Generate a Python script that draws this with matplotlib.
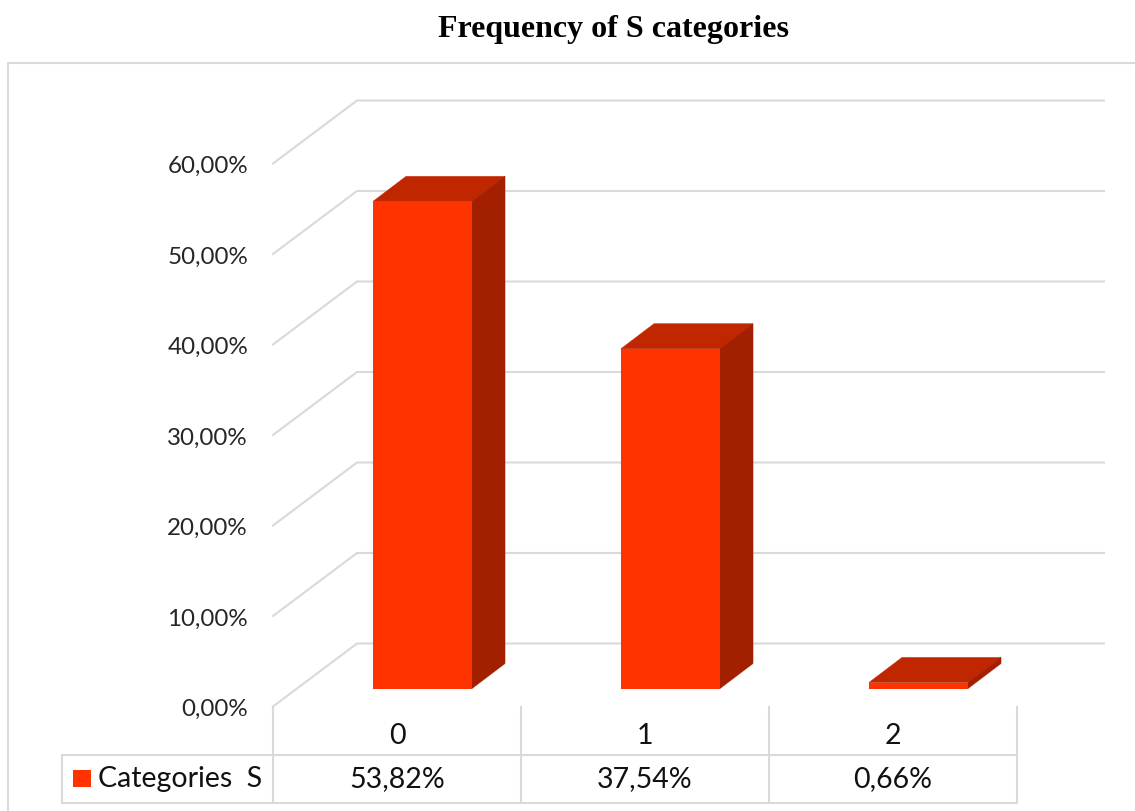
import matplotlib
matplotlib.use("Agg")
import matplotlib.pyplot as plt
from matplotlib.lines import Line2D
from matplotlib.patches import Rectangle
from matplotlib.transforms import ScaledTranslation

categories = ["0", "1", "2"]
values = [53.82, 37.54, 0.66]
value_labels = ["53,82%", "37,54%", "0,66%"]
y_ticks = [0, 10, 20, 30, 40, 50, 60]
y_tick_labels = ["0,00%", "10,00%", "20,00%", "30,00%", "40,00%", "50,00%", "60,00%"]
series_name = "Categories  S"

W, H = 1135, 812
FRONT = "#FF3300"
TOP = "#C02600"
SIDE = "#A22000"
GRID = "#D9D9D9"
TEXT = "#262626"

# size of one unit on each axis, in pixels
PX_X = 248.0
PX_Y = 9.05

# depth of the chart floor and of a single bar, in data units
WALL_DX = 84 / PX_X
WALL_DY = 63 / PX_Y
BAR_DX = 33 / PX_X
BAR_DY = 25 / PX_Y
BAR_LIFT = 18 / PX_Y
BAR_SHIFT = 25.5 / PX_X
BAR_W = 99 / PX_X

plt.rcParams['font.family'] = ['Lato', 'DejaVu Sans']

fig = plt.figure(figsize=(W / 100, H / 100), dpi=100, facecolor="white")
ax = fig.add_axes([273 / W, (H - 707.5) / H, 744 / W, 543 / H])
ax.set_xlim(0, 3)
ax.set_ylim(0, 60)
for s in ax.spines.values():
    s.set_visible(False)
ax.patch.set_visible(False)

x_pos = [i + 0.5 for i in range(len(categories))]
ax.set_xticks(x_pos, categories)
ax.set_yticks(y_ticks, y_tick_labels)
ax.tick_params(axis='x', length=0, pad=11, labelsize=20.5, labelcolor="#111111")
ax.tick_params(axis='y', length=0, pad=18, labelsize=17.4, labelcolor=TEXT)

# side wall diagonals plus the back wall gridlines
wall_end = (1104 - 273) / PX_X
for t in y_ticks:
    ax.plot([0, WALL_DX, wall_end], [t, t + WALL_DY, t + WALL_DY], color=GRID, lw=1.5,
            clip_on=False, zorder=1, solid_joinstyle='miter')

# bars: top and side faces first, the front face goes over them
for x, v in zip(x_pos, values):
    left = x + BAR_SHIFT - BAR_W / 2
    right = left + BAR_W
    bottom = BAR_LIFT
    top = bottom + v
    ax.fill([left, right, right + BAR_DX, left + BAR_DX],
            [top, top, top + BAR_DY, top + BAR_DY],
            facecolor=TOP, edgecolor=TOP, lw=0.4, zorder=3, clip_on=False)
    ax.fill([right, right + BAR_DX, right + BAR_DX, right],
            [bottom, bottom + BAR_DY, top + BAR_DY, top],
            facecolor=SIDE, edgecolor=SIDE, lw=0.4, zorder=3, clip_on=False)
    ax.bar(left, v, width=BAR_W, bottom=bottom, align='edge', color=FRONT, zorder=4, clip_on=False)

# data table under the plot
tbl_top = -(754 - 706) / PX_Y
tbl_bottom = -(802 - 706) / PX_Y
tbl_left = -(273 - 62) / PX_X
row_y = -(778 - 706) / PX_Y
for yy in [tbl_top, tbl_bottom]:
    ax.plot([tbl_left, 3], [yy, yy], color=GRID, lw=1.5, clip_on=False, zorder=1)
ax.plot([tbl_left, tbl_left], [tbl_top, tbl_bottom], color=GRID, lw=1.5, clip_on=False, zorder=1)
for i in range(len(categories) + 1):
    ax.plot([i, i], [0, tbl_bottom], color=GRID, lw=1.5, clip_on=False, zorder=1)

for x, lab in zip(x_pos, value_labels):
    ax.text(x, row_y, lab, ha='center', va='center', fontsize=20.5, color="#111111")

ax.add_patch(Rectangle((-(273 - 73) / PX_X, -(786 - 706) / PX_Y), 18 / PX_X, 17 / PX_Y,
                       color=FRONT, lw=0, clip_on=False))
ax.text(-(273 - 98) / PX_X, row_y, series_name, ha='left', va='center', fontsize=20.5, color="#111111")

# outer chart border, open at the right and bottom
fig.add_artist(Line2D([8 / W, 8 / W, 1], [0, 1 - 64 / H, 1 - 64 / H], color=GRID, lw=1.5))

fig.text(613 / W, 1 - 29 / H, "Frequency of S categories", ha='center', va='center',
         family=['Liberation Serif'], fontweight='bold', fontsize=23, color="black")

fig.savefig("out.png", dpi=100)
